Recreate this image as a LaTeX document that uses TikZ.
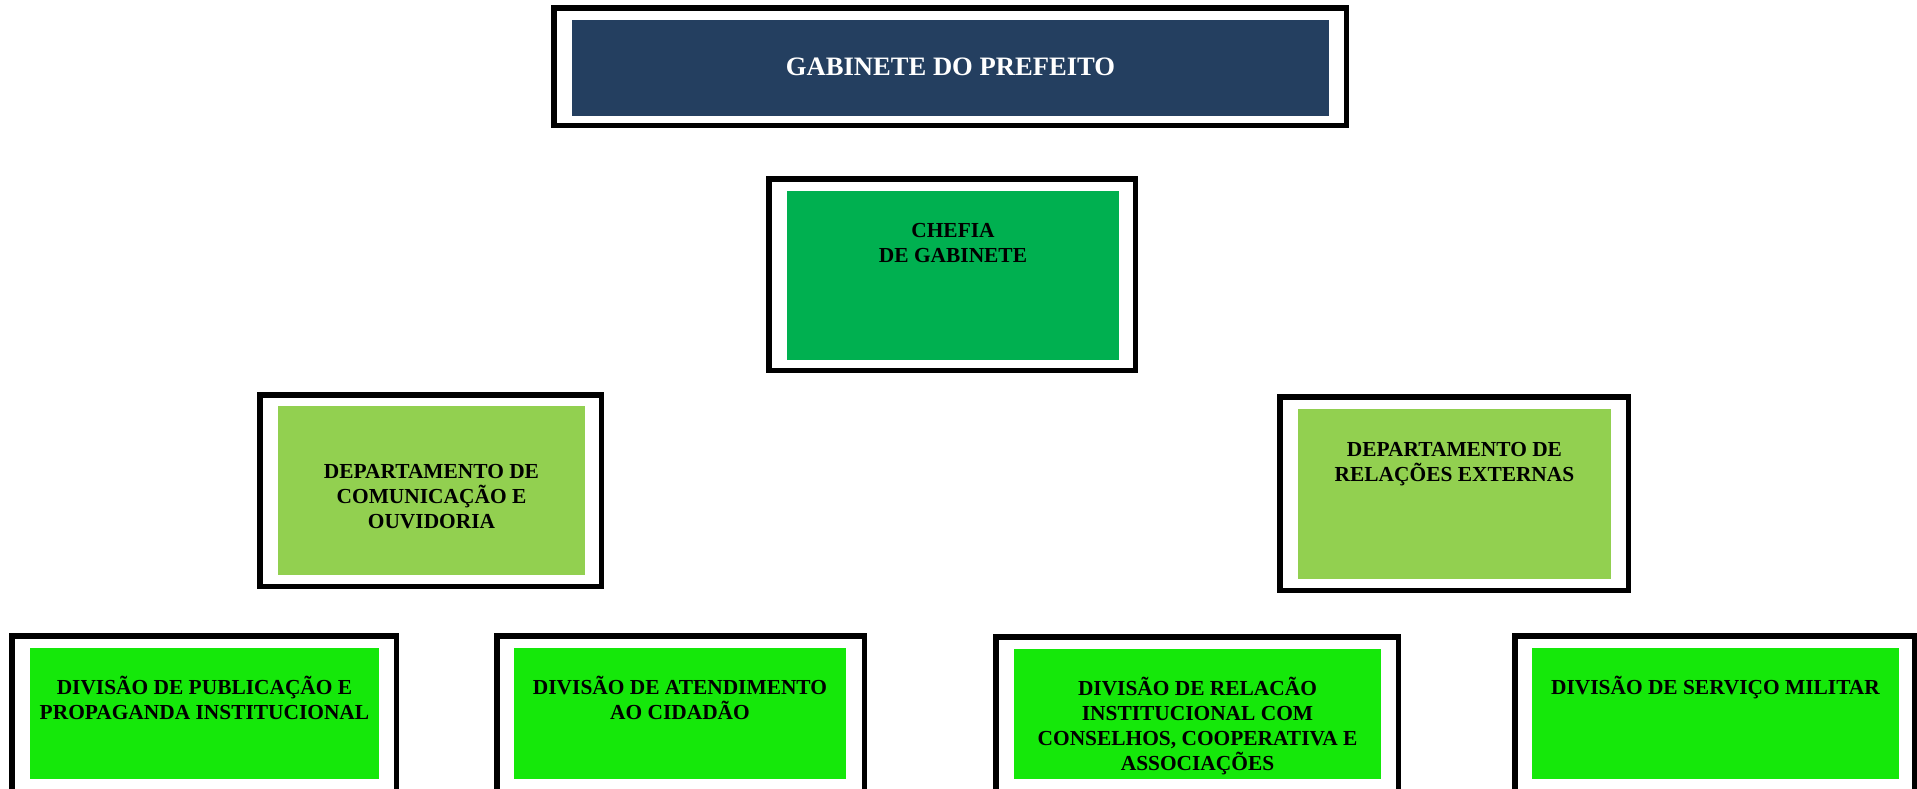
\documentclass[tikz,border=0pt]{standalone}
\usepackage{fontspec}
\setmainfont{Liberation Serif}
\usetikzlibrary{fit}
\definecolor{navybox}{RGB}{36,63,96}
\definecolor{chefgreen}{RGB}{0,176,80}
\definecolor{deptgreen}{RGB}{146,208,80}
\definecolor{divgreen}{RGB}{21,232,10}
\newcommand\myTopStrut{\rule{0pt}{11pt}}
\newcommand\orgframe[4]{\draw[orgframe] (#1+2.75,#2+2.75) rectangle (#3-2.75,#4-2.75);}
\begin{document}
\begin{tikzpicture}[x=0.5pt,y=-0.5pt,
  orgframe/.style={draw=black,line width=2.75pt},
  fillbox/.style={fill=#1,draw=none,inner sep=0pt},
  orgtext/.style={inner sep=0pt,align=center,anchor=north,
    font=\bfseries\fontsize{10.7pt}{12.5pt}\selectfont}]
\useasboundingbox (0,0) rectangle (1917,788);
\begin{scope}
\clip (0,0) rectangle (1917,788);
% frames
\orgframe{551}{5}{1349}{128}
\orgframe{766}{176}{1138}{373}
\orgframe{257}{392}{604}{589}
\orgframe{1277}{394}{1631}{593}
\orgframe{9}{633}{399}{800}
\orgframe{494}{633}{867}{800}
\orgframe{993}{634}{1401}{800}
\orgframe{1512}{633}{1917}{800}
% fills
\node[fillbox=navybox, fit={(572,20) (1329,116)}] (gab) {};
\node[fillbox=chefgreen, fit={(787,191) (1119,360)}] (chef) {};
\node[fillbox=deptgreen, fit={(278,406) (585,575)}] (dcom) {};
\node[fillbox=deptgreen, fit={(1298,409) (1611,579)}] (drel) {};
\node[fillbox=divgreen, fit={(30,648) (379,779)}] (dpub) {};
\node[fillbox=divgreen, fit={(514,648) (846,779)}] (date) {};
\node[fillbox=divgreen, fit={(1014,649) (1381,779)}] (drin) {};
\node[fillbox=divgreen, fit={(1532,648) (1899,779)}] (dmil) {};
\end{scope}
% texts
\node[orgtext, text=white, anchor=base, font=\bfseries\fontsize{13.3pt}{15pt}\selectfont] (gab-t) at (950.5,75.5) {GABINETE DO PREFEITO};
\node[orgtext] (chef-t) at (953,215) {\myTopStrut CHEFIA\\DE GABINETE};
\node[orgtext] (dcom-t) at (431.5,456) {\myTopStrut DEPARTAMENTO DE\\COMUNICAÇÃO E\\OUVIDORIA};
\node[orgtext] (drel-t) at (1454.5,434) {\myTopStrut DEPARTAMENTO DE\\RELAÇÕES EXTERNAS};
\node[orgtext] (dpub-t) at (204.5,672) {\myTopStrut DIVISÃO DE PUBLICAÇÃO E\\PROPAGANDA INSTITUCIONAL};
\node[orgtext] (date-t) at (680,672) {\myTopStrut DIVISÃO DE ATENDIMENTO\\AO CIDADÃO};
\node[orgtext] (drin-t) at (1197.5,673) {\myTopStrut DIVISÃO DE RELACÃO\\INSTITUCIONAL COM\\CONSELHOS, COOPERATIVA E\\ASSOCIAÇÕES};
\node[orgtext] (dmil-t) at (1715.5,672) {\myTopStrut DIVISÃO DE SERVIÇO MILITAR};
\end{tikzpicture}
\end{document}
